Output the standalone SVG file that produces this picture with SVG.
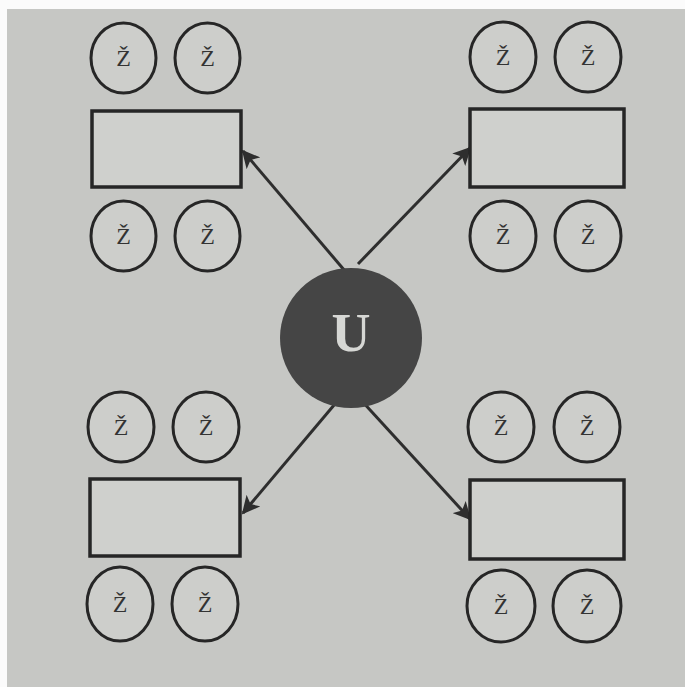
<svg xmlns="http://www.w3.org/2000/svg" width="685" height="687" viewBox="0 0 685 687">
<defs>
<style>
.bg{fill:#c6c7c4}
.box{fill:#cfd0cd;stroke:#262626;stroke-width:3.5}
.z{fill:#cdcecb;stroke:#262626;stroke-width:3}
.zt{font-family:"Liberation Serif",serif;font-size:24px;fill:#333333;text-anchor:middle}
.con{stroke:#2e2e2e;stroke-width:3;fill:none;marker-end:url(#ah)}
</style>
<marker id="ah" viewBox="0 0 10 10" refX="9" refY="5" markerWidth="6" markerHeight="6" orient="auto" markerUnits="strokeWidth">
<path d="M0,0 L10,5 L0,10 L2.5,5 Z" fill="#2e2e2e"/>
</marker>
</defs>
<rect x="0" y="0" width="685" height="687" fill="#fbfbfb"/>
<rect class="bg" x="7" y="9" width="678" height="678"/>
<g id="connectors">
<line class="con" x1="345" y1="271" x2="243" y2="151"/>
<line class="con" x1="358" y1="264" x2="470" y2="148"/>
<line class="con" x1="340" y1="398" x2="243" y2="513"/>
<line class="con" x1="360" y1="399" x2="470" y2="519"/>
</g>
<g id="center">
<ellipse cx="351" cy="338" rx="71" ry="70" fill="#454545"/>
<text x="351" y="351" font-family="Liberation Serif,serif" font-size="54" font-weight="bold" fill="#d6d7d4" text-anchor="middle">U</text>
</g>
<g id="box-tl"><rect class="box" x="92" y="111" width="149" height="76"/></g>
<g id="box-tr"><rect class="box" x="470" y="109" width="154" height="78"/></g>
<g id="box-bl"><rect class="box" x="90" y="479" width="150" height="77"/></g>
<g id="box-br"><rect class="box" x="470" y="480" width="154" height="79"/></g>
<g id="z-tl1"><ellipse class="z" cx="123.5" cy="58" rx="32.5" ry="35"/><text class="zt" x="123.5" y="66">Ž</text></g>
<g id="z-tl2"><ellipse class="z" cx="207.5" cy="58" rx="32.5" ry="35"/><text class="zt" x="207.5" y="66">Ž</text></g>
<g id="z-tl3"><ellipse class="z" cx="123.5" cy="236" rx="32.5" ry="35"/><text class="zt" x="123.5" y="244">Ž</text></g>
<g id="z-tl4"><ellipse class="z" cx="207.5" cy="236" rx="32.5" ry="35"/><text class="zt" x="207.5" y="244">Ž</text></g>
<g id="z-tr1"><ellipse class="z" cx="503" cy="57" rx="33" ry="35"/><text class="zt" x="503" y="65">Ž</text></g>
<g id="z-tr2"><ellipse class="z" cx="588" cy="57" rx="33" ry="35"/><text class="zt" x="588" y="65">Ž</text></g>
<g id="z-tr3"><ellipse class="z" cx="503" cy="236" rx="33" ry="35"/><text class="zt" x="503" y="244">Ž</text></g>
<g id="z-tr4"><ellipse class="z" cx="588" cy="236" rx="33" ry="35"/><text class="zt" x="588" y="244">Ž</text></g>
<g id="z-bl1"><ellipse class="z" cx="121" cy="427" rx="33" ry="35"/><text class="zt" x="121" y="435">Ž</text></g>
<g id="z-bl2"><ellipse class="z" cx="206" cy="427" rx="33" ry="35"/><text class="zt" x="206" y="435">Ž</text></g>
<g id="z-bl3"><ellipse class="z" cx="120" cy="604" rx="33" ry="37"/><text class="zt" x="120" y="612">Ž</text></g>
<g id="z-bl4"><ellipse class="z" cx="205" cy="604" rx="33" ry="37"/><text class="zt" x="205" y="612">Ž</text></g>
<g id="z-br1"><ellipse class="z" cx="501" cy="427" rx="33" ry="35"/><text class="zt" x="501" y="435">Ž</text></g>
<g id="z-br2"><ellipse class="z" cx="587" cy="427" rx="33" ry="35"/><text class="zt" x="587" y="435">Ž</text></g>
<g id="z-br3"><ellipse class="z" cx="501" cy="606" rx="34" ry="36"/><text class="zt" x="501" y="614">Ž</text></g>
<g id="z-br4"><ellipse class="z" cx="587" cy="606" rx="34" ry="36"/><text class="zt" x="587" y="614">Ž</text></g>
</svg>
